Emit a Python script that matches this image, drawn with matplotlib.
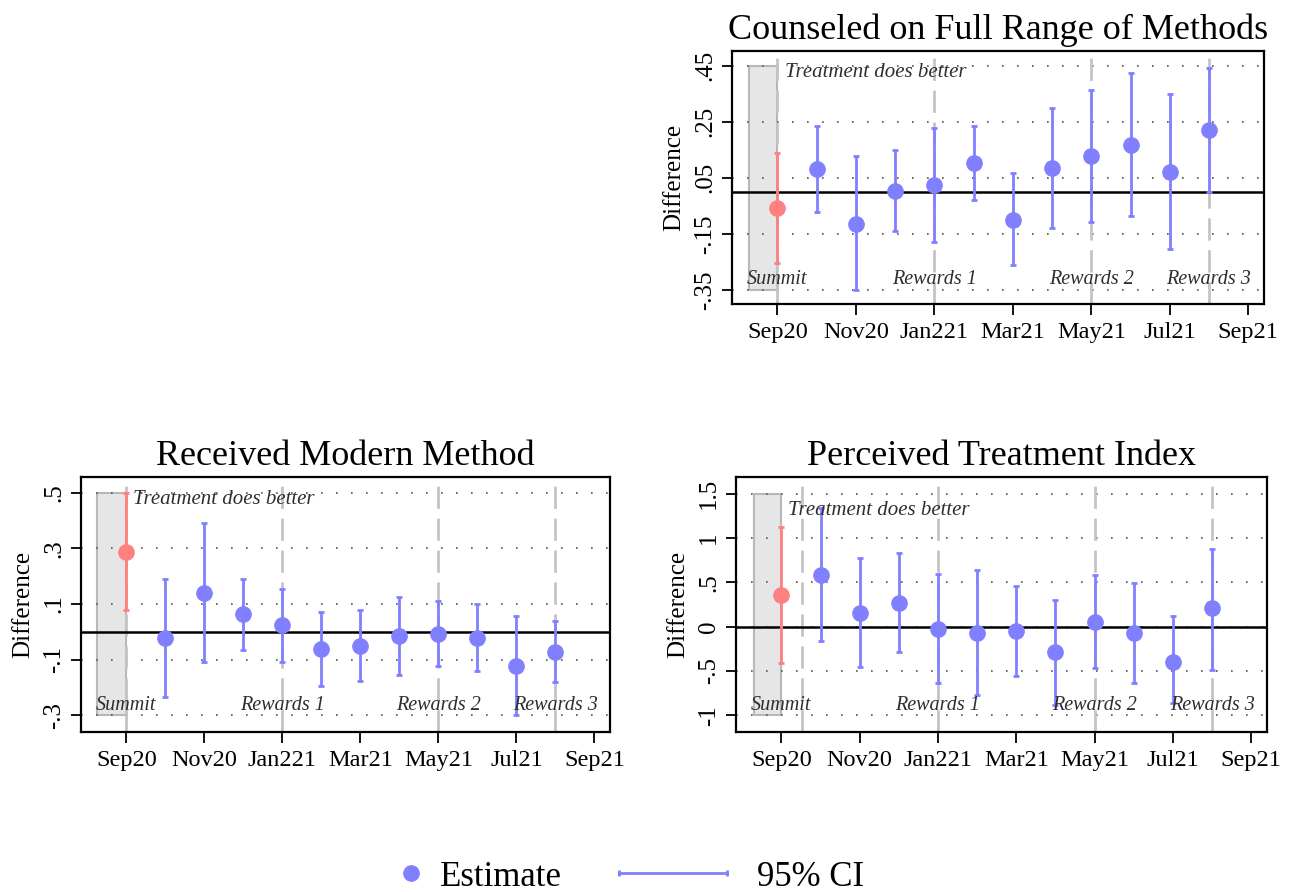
import matplotlib
matplotlib.use('Agg')
import matplotlib.pyplot as plt
import numpy as np
from matplotlib.lines import Line2D
from matplotlib.legend_handler import HandlerLine2D

plt.rcParams['font.family'] = ['Liberation Serif', 'DejaVu Serif']

# months since Sep 2020 (Sep20 ... Aug21)
months = np.arange(12)
xtick_pos = [0, 2, 4, 6, 8, 10, 12]
xtick_lab = ['Sep20', 'Nov20', 'Jan221', 'Mar21', 'May21', 'Jul21', 'Sep21']

# Counseled on Full Range of Methods
couns_est = [-0.059, 0.081, -0.113, 0.003, 0.025, 0.103, -0.099, 0.085, 0.127, 0.166, 0.072, 0.219]
couns_hi = [0.139, 0.234, 0.127, 0.149, 0.228, 0.234, 0.067, 0.299, 0.363, 0.422, 0.347, 0.440]
couns_lo = [-0.254, -0.071, -0.350, -0.140, -0.179, -0.029, -0.260, -0.128, -0.107, -0.085, -0.204, 0.000]
couns_yt = [0.45, 0.25, 0.05, -0.15, -0.35]
couns_yl = ['.45', '.25', '.05', '-.15', '-.35']

# Received Modern Method
recv_est = [0.289, -0.022, 0.141, 0.063, 0.023, -0.063, -0.051, -0.013, -0.006, -0.022, -0.123, -0.071]
recv_hi = [0.500, 0.192, 0.392, 0.192, 0.155, 0.070, 0.078, 0.127, 0.111, 0.100, 0.057, 0.038]
recv_lo = [0.080, -0.235, -0.108, -0.066, -0.108, -0.195, -0.177, -0.154, -0.121, -0.141, -0.300, -0.181]
recv_yt = [0.5, 0.3, 0.1, -0.1, -0.3]
recv_yl = ['.5', '.3', '.1', '-.1', '-.3']

# Perceived Treatment Index
perc_est = [0.354, 0.586, 0.157, 0.269, -0.026, -0.075, -0.056, -0.291, 0.056, -0.075, -0.403, 0.205]
perc_hi = [1.127, 1.332, 0.772, 0.828, 0.590, 0.634, 0.455, 0.299, 0.586, 0.493, 0.123, 0.877]
perc_lo = [-0.410, -0.160, -0.455, -0.284, -0.634, -0.776, -0.560, -0.880, -0.466, -0.634, -0.860, -0.485]
perc_yt = [1.5, 1, 0.5, 0, -0.5, -1]
perc_yl = ['1.5', '1', '.5', '0', '-.5', '-1']

event_lab = ['Summit', 'Rewards 1', 'Rewards 2', 'Rewards 3']
event_x = [0, 4, 8, 11]

BLUE = '#8080ff'
RED = '#ff8080'
GREY = '#c4c4c4'
TXT = '#2e2e2e'

fig = plt.figure(figsize=(12.9, 8.92), dpi=100)


def panel(rect, title, est, lo, hi, yt, yl, ylim, vlines, shade_left, tdb_y):
    ax = fig.add_axes(rect)
    ax.set_xlim(-1.16, 12.4)
    ax.set_ylim(*ylim)
    top, bot = yt[0], yt[-1]
    # shaded summit period
    ax.fill_between([shade_left, 0], bot, top, color='#e6e6e6', edgecolor='#b8b8b8', lw=1.5, zorder=1)
    for v in vlines:
        ax.axvline(v, color=GREY, lw=2, dashes=(8, 3.5), zorder=1.5)
    for y in yt:
        ax.axhline(y, color='#555555', lw=1.2, linestyle=(0, (1, 8)), zorder=1.2)
    ax.axhline(0, color='black', lw=1.8, zorder=2)
    est = np.array(est)
    lo = np.array(lo)
    hi = np.array(hi)
    cols = [RED] + [BLUE] * (len(est) - 1)
    for i in range(len(est)):
        ax.errorbar(months[i], est[i], yerr=[[est[i] - lo[i]], [hi[i] - est[i]]],
                    fmt='o', color=cols[i], ms=11, elinewidth=2, capsize=2, capthick=2, zorder=3)
    txt_y = bot + (top - bot) * 0.045
    for lab, x in zip(event_lab, event_x):
        ax.text(x, txt_y, lab, ha='center', va='center', style='italic', fontsize=14.5, color=TXT, zorder=4)
    ax.text(0.18, tdb_y, 'Treatment does better', ha='left', va='center', style='italic',
            fontsize=15, color=TXT, zorder=4)
    ax.set_xticks(xtick_pos)
    ax.set_xticklabels(xtick_lab, fontsize=17.5)
    ax.set_yticks(yt)
    ax.set_yticklabels(yl, fontsize=18, rotation=90, va='center')
    ax.tick_params(axis='x', length=8, width=1.3, pad=5)
    ax.tick_params(axis='y', length=7.5, width=1.3, pad=4)
    ax.set_ylabel('Difference', fontsize=18, labelpad=6)
    ax.set_title(title, fontsize=26, pad=9)
    for s in ax.spines.values():
        s.set_linewidth(1.6)
    return ax


panel([0.5674, 0.6592, 0.4124, 0.2836], 'Counseled on Full Range of Methods',
      couns_est, couns_lo, couns_hi, couns_yt, couns_yl, (-0.40, 0.502), [0, 4, 8, 11], -0.72, 0.425)
panel([0.0628, 0.1794, 0.4101, 0.2858], 'Received Modern Method',
      recv_est, recv_lo, recv_hi, recv_yt, recv_yl, (-0.36, 0.557), [0, 4, 8, 11], -0.76, 0.475)
panel([0.5705, 0.1794, 0.4116, 0.2858], 'Perceived Treatment Index',
      perc_est, perc_lo, perc_hi, perc_yt, perc_yl, (-1.19, 1.687), [0.52, 4, 8, 11], -0.71, 1.31)

# legend
est_h = Line2D([], [], color=BLUE, marker='o', ms=11, ls='none')
ci_h = Line2D([], [], color=BLUE, lw=2, marker='|', ms=4, mew=2)
fig.legend(handles=[est_h], labels=['Estimate'], loc='center left',
           bbox_to_anchor=(398 / 1290, 1 - 877 / 892), frameon=False, fontsize=25,
           handlelength=0.75, handletextpad=0.45, borderpad=0, borderaxespad=0,
           handler_map={est_h: HandlerLine2D(numpoints=1)})
fig.legend(handles=[ci_h], labels=['95% CI'], loc='center left',
           bbox_to_anchor=(609 / 1290, 1 - 877 / 892), frameon=False, fontsize=25,
           handlelength=3.7, handletextpad=0.55, borderpad=0, borderaxespad=0,
           handler_map={ci_h: HandlerLine2D(numpoints=2)})

fig.savefig('out.png', dpi=100, facecolor='white')
